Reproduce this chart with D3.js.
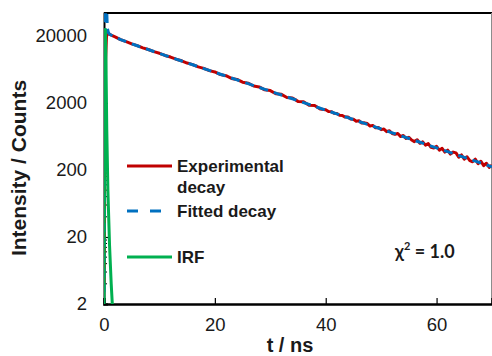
<!DOCTYPE html>
<html>
<head>
<meta charset="utf-8">
<script src="https://cdn.jsdelivr.net/npm/d3@7"></script>
<style>
  html, body { margin: 0; padding: 0; background: #fff; }
  svg { display: block; }
</style>
</head>
<body>
<svg id="chart" width="492" height="356"></svg>
<script>
// Fluorescence decay: measured counts, fitted decay and instrument response (IRF)
const xTicks = [0, 20, 40, 60];
const yTicks = [2, 20, 200, 2000, 20000];

// [t (ns), counts]
const experimental = [
  [0, 4], [0.05, 9], [0.15, 300], [0.3, 9000], [0.45, 19500], [0.6, 21900], [0.8, 21600],
  [1, 21050], [2, 19310], [3, 17600], [4, 16480], [5, 15220], [6, 14350], [7, 13280],
  [8, 12560], [9, 11650], [10, 11020], [11, 10230], [12, 9690], [13, 8990], [14, 8510],
  [15, 7880], [16, 7470], [17, 6920], [18, 6570], [19, 6080], [20, 5800], [21, 5310],
  [22, 5110], [23, 4650], [24, 4490], [25, 4080], [26, 3950], [27, 3580], [28, 3470],
  [29, 3140], [30, 3060], [31, 2750], [32, 2690], [33, 2410], [34, 2370], [35, 2110],
  [36, 2090], [37, 1850], [38, 1830], [39, 1620], [40, 1590], [40.5, 1495], [41, 1485],
  [41.5, 1400], [42, 1395], [42.5, 1310], [43, 1300], [43.5, 1230], [44, 1235], [44.5, 1150],
  [45, 1145], [45.5, 1070], [46, 1085], [46.5, 1005], [47, 1010], [47.5, 985], [48, 905],
  [48.5, 925], [49, 850], [49.5, 860], [50, 800], [50.5, 815], [51, 745], [51.5, 770],
  [52, 700], [52.5, 680], [53, 700], [53.5, 630], [54, 655], [54.5, 590], [55, 615],
  [55.5, 560], [56, 530], [56.5, 565], [57, 500], [57.5, 525], [58, 470], [58.5, 495],
  [59, 435], [59.5, 425], [60, 450], [60.5, 395], [61, 420], [61.5, 370], [62, 395],
  [62.5, 345], [63, 370], [63.5, 360], [64, 310], [64.5, 335], [65, 290], [65.5, 315],
  [66, 275], [66.5, 265], [67, 290], [67.5, 248], [68, 270], [68.5, 232], [69, 252],
  [69.5, 218], [70, 236]
];

const fitted = [
  [0, 3], [0.1, 200], [0.2, 20000], [0.3, 80000], [0.45, 60000], [0.6, 26000], [0.8, 22500],
  [1, 21220], [2, 19233], [3, 17689], [4, 16404], [5, 15285], [6, 14279], [7, 13357],
  [8, 12506], [9, 11714], [10, 10974], [11, 10280], [12, 9634], [13, 9028], [14, 8461],
  [15, 7929], [16, 7430], [17, 6963], [18, 6525], [19, 6115], [20, 5731], [21, 5370],
  [22, 5033], [23, 4716], [24, 4420], [25, 4142], [26, 3882], [27, 3638], [28, 3409],
  [29, 3195], [30, 2994], [31, 2806], [32, 2629], [33, 2464], [34, 2309], [35, 2164],
  [36, 2028], [37, 1900], [38, 1781], [39, 1669], [40, 1564], [41, 1466], [42, 1374],
  [43, 1287], [44, 1206], [45, 1130], [46, 1059], [47, 993], [48, 930], [49, 872],
  [50, 817], [51, 766], [52, 717], [53, 672], [54, 630], [55, 590], [56, 553], [57, 519],
  [58, 486], [59, 455], [60, 427], [61, 400], [62, 375], [63, 351], [64, 329], [65, 308],
  [66, 289], [67, 271], [68, 254], [69, 238], [70, 223]
];

const irf = [
  [0, 2], [0.05, 50], [0.15, 3000], [0.25, 25000], [0.35, 9000], [0.5, 800],
  [0.7, 100], [1.0, 15], [1.3, 4], [1.5, 2]
];

const legendItems = [
  { label: ["Experimental", "decay"], color: "#C00000", dash: null },
  { label: ["Fitted decay"], color: "#0070C0", dash: "11,12" },
  { label: ["IRF"], color: "#00B050", dash: null }
];

const svg = d3.select("#chart");
const plotLeft = 104, plotRight = 492, plotTop = 13, plotBottom = 304;

const x = d3.scaleLinear().domain([0, 70]).range([plotLeft, plotRight]);
const y = d3.scaleLog().domain([2, 44000]).range([plotBottom, plotTop]);

// Clip region for the data
svg.append("defs").append("clipPath").attr("id", "plotClip")
  .append("rect").attr("x", plotLeft).attr("y", plotTop)
  .attr("width", plotRight - plotLeft).attr("height", plotBottom - plotTop);

// Frame: top black, right grey
svg.append("line").attr("x1", plotLeft).attr("x2", plotRight).attr("y1", plotTop).attr("y2", plotTop)
  .attr("stroke", "#000").attr("stroke-width", 2);
svg.append("line").attr("x1", 491.5).attr("x2", 491.5).attr("y1", plotTop).attr("y2", plotBottom)
  .attr("stroke", "#8c8c8c").attr("stroke-width", 1);

// Y axis (log), ticks pointing inside
const yAxis = d3.axisLeft(y).tickValues(yTicks).tickFormat(d3.format("d")).tickSize(-4).tickPadding(17);
const gy = svg.append("g").attr("transform", `translate(${plotLeft},0)`).call(yAxis);
gy.select(".domain").attr("stroke", "#000").attr("stroke-width", 2);
gy.selectAll(".tick line").attr("stroke", "#000").attr("stroke-width", 1.2);
gy.selectAll(".tick text").attr("font-family", "Liberation Sans, Arial, sans-serif")
  .attr("font-size", 18.5).attr("fill", "#1a1a1a");

// Minor ticks on the log axis
const minor = [];
[2, 20, 200, 2000].forEach(b => { for (let k = 2; k <= 9; k++) minor.push(b * k); });
svg.append("g").selectAll("line").data(minor).join("line")
  .attr("x1", plotLeft).attr("x2", plotLeft + 3)
  .attr("y1", d => y(d)).attr("y2", d => y(d))
  .attr("stroke", "#000").attr("stroke-width", 1);

// X axis, ticks pointing inside
const xAxis = d3.axisBottom(x).tickValues(xTicks).tickSize(-6).tickPadding(14);
const gx = svg.append("g").attr("transform", `translate(0,${plotBottom})`).call(xAxis);
gx.select(".domain").attr("stroke", "#000").attr("stroke-width", 2.5);
gx.selectAll(".tick line").attr("stroke", "#000").attr("stroke-width", 1.2);
gx.selectAll(".tick text").attr("font-family", "Liberation Sans, Arial, sans-serif")
  .attr("font-size", 18.5).attr("fill", "#1a1a1a");

// Axis titles
svg.append("text").attr("x", 290).attr("y", 352).attr("text-anchor", "middle")
  .attr("font-family", "Liberation Sans, Arial, sans-serif").attr("font-weight", "bold")
  .attr("font-size", 20).attr("fill", "#1a1a1a").text("t / ns");
svg.append("text").attr("transform", "translate(26,168) rotate(-90)").attr("text-anchor", "middle")
  .attr("font-family", "Liberation Sans, Arial, sans-serif").attr("font-weight", "bold")
  .attr("font-size", 21).attr("fill", "#1a1a1a").text("Intensity / Counts");

// Data lines
const line = d3.line().x(d => x(d[0])).y(d => y(d[1]));
const plot = svg.append("g").attr("clip-path", "url(#plotClip)");
plot.append("path").datum(experimental).attr("d", line)
  .attr("fill", "none").attr("stroke", "#C00000").attr("stroke-width", 3).attr("stroke-linejoin", "round");
plot.append("path").datum(fitted).attr("d", line)
  .attr("fill", "none").attr("stroke", "#0070C0").attr("stroke-width", 3).attr("stroke-dasharray", "9,6");
plot.append("path").datum(irf).attr("d", line)
  .attr("fill", "none").attr("stroke", "#00B050").attr("stroke-width", 3).attr("stroke-linejoin", "round");

// Legend
const legendRows = [166, 211, 257];
const lg = svg.append("g");
legendItems.forEach((item, i) => {
  const ly = legendRows[i];
  lg.append("line").attr("x1", 127).attr("x2", 172).attr("y1", ly).attr("y2", ly)
    .attr("stroke", item.color).attr("stroke-width", 3)
    .attr("stroke-dasharray", item.dash);
  item.label.forEach((t, j) => {
    lg.append("text").attr("x", 177).attr("y", ly + 6 + j * 21)
      .attr("font-family", "Liberation Sans, Arial, sans-serif").attr("font-weight", "bold")
      .attr("font-size", 17).attr("fill", "#1a1a1a").text(t);
  });
});

// Goodness of fit
const chi = svg.append("text").attr("x", 395).attr("y", 258)
  .attr("font-family", "Lato, sans-serif").attr("font-weight", "bold")
  .attr("font-size", 18).attr("fill", "#1a1a1a");
chi.append("tspan").text("χ");
chi.append("tspan").attr("font-size", 11).attr("dy", -8).text("2");
chi.append("tspan").attr("dy", 8).text(" = 1.0");
</script>
</body>
</html>
